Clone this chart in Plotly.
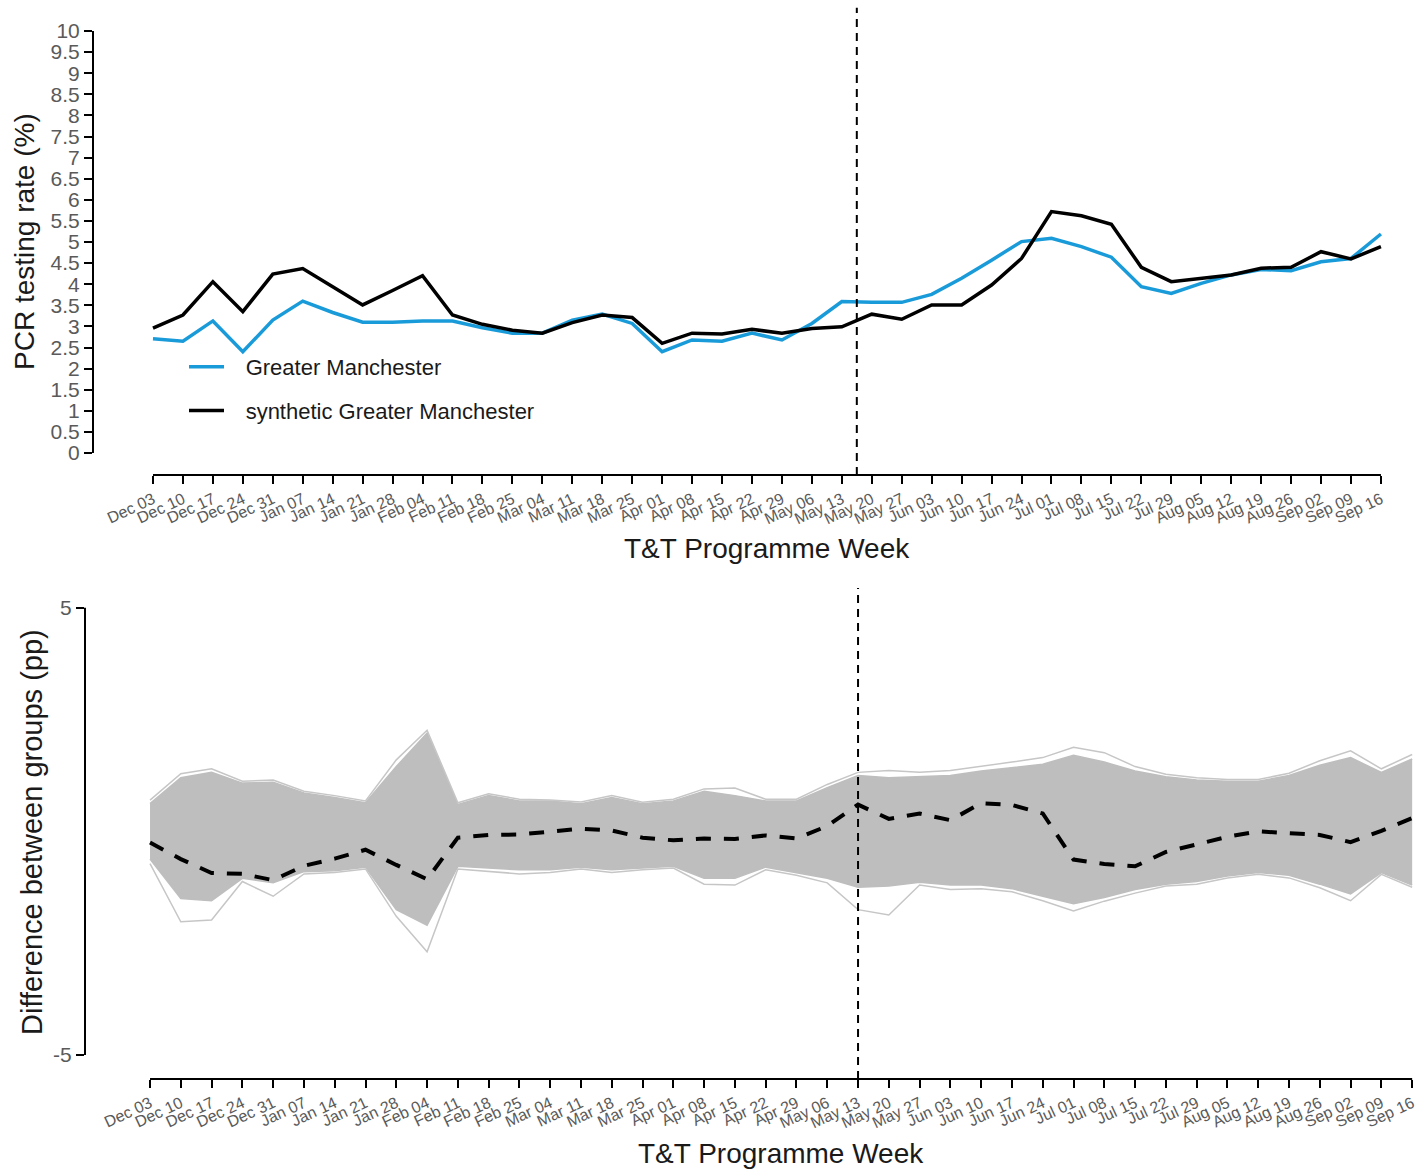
import plotly.graph_objects as go

# Programme weeks (Thursdays, Dec 2020 - Sep 2021)
weeks = [
    "Dec 03", "Dec 10", "Dec 17", "Dec 24", "Dec 31",
    "Jan 07", "Jan 14", "Jan 21", "Jan 28",
    "Feb 04", "Feb 11", "Feb 18", "Feb 25",
    "Mar 04", "Mar 11", "Mar 18", "Mar 25",
    "Apr 01", "Apr 08", "Apr 15", "Apr 22", "Apr 29",
    "May 06", "May 13", "May 20", "May 27",
    "Jun 03", "Jun 10", "Jun 17", "Jun 24",
    "Jul 01", "Jul 08", "Jul 15", "Jul 22", "Jul 29",
    "Aug 05", "Aug 12", "Aug 19", "Aug 26",
    "Sep 02", "Sep 09", "Sep 16",
]

# PCR testing rate (%)
greater_manchester = [
    2.71, 2.65, 3.13, 2.40, 3.15, 3.60, 3.33, 3.10, 3.10, 3.13,
    3.13, 2.97, 2.84, 2.84, 3.15, 3.29, 3.07, 2.40, 2.68, 2.65,
    2.84, 2.68, 3.07, 3.59, 3.57, 3.57, 3.76, 4.14, 4.57, 5.01,
    5.09, 4.89, 4.64, 3.94, 3.78, 4.02, 4.22, 4.35, 4.32, 4.53,
    4.61, 5.19,
]
synthetic_greater_manchester = [
    2.96, 3.27, 4.06, 3.35, 4.24, 4.37, 3.94, 3.51, 3.85, 4.20,
    3.27, 3.05, 2.91, 2.84, 3.09, 3.27, 3.21, 2.60, 2.84, 2.82,
    2.93, 2.84, 2.95, 2.99, 3.29, 3.17, 3.51, 3.51, 3.98, 4.61,
    5.72, 5.62, 5.42, 4.40, 4.06, 4.14, 4.22, 4.38, 4.40, 4.77,
    4.60, 4.89,
]

# Placebo gaps (pp): dense core of the placebo runs and their outermost runs
placebo_core_hi = [
    0.62, 1.20, 1.32, 1.08, 1.10, 0.86, 0.76, 0.64, 1.45, 2.20,
    0.60, 0.80, 0.68, 0.68, 0.62, 0.76, 0.62, 0.68, 0.90, 0.80,
    0.68, 0.68, 0.98, 1.25, 1.20, 1.22, 1.25, 1.35, 1.42, 1.50,
    1.70, 1.55, 1.35, 1.22, 1.15, 1.12, 1.12, 1.25, 1.48, 1.65,
    1.32, 1.62,
]
placebo_core_lo = [
    -0.62, -1.50, -1.55, -1.05, -1.15, -0.90, -0.88, -0.80, -1.75, -2.10,
    -0.78, -0.82, -0.86, -0.86, -0.80, -0.86, -0.82, -0.78, -1.05, -1.05,
    -0.80, -0.92, -1.05, -1.25, -1.22, -1.14, -1.20, -1.20, -1.28, -1.45,
    -1.62, -1.48, -1.30, -1.18, -1.12, -1.00, -0.92, -0.98, -1.18, -1.40,
    -0.92, -1.20,
]
placebo_outer_hi = [
    0.70, 1.29, 1.40, 1.12, 1.15, 0.90, 0.80, 0.68, 1.60, 2.26,
    0.64, 0.84, 0.72, 0.70, 0.66, 0.80, 0.65, 0.72, 0.95, 0.97,
    0.72, 0.72, 1.05, 1.32, 1.36, 1.32, 1.36, 1.45, 1.55, 1.65,
    1.88, 1.76, 1.45, 1.28, 1.20, 1.16, 1.16, 1.30, 1.58, 1.80,
    1.40, 1.72,
]
placebo_outer_lo = [
    -0.72, -2.02, -1.98, -1.12, -1.45, -0.95, -0.92, -0.84, -1.90, -2.69,
    -0.84, -0.90, -0.95, -0.92, -0.84, -0.92, -0.86, -0.82, -1.18, -1.20,
    -0.86, -0.98, -1.15, -1.75, -1.87, -1.20, -1.30, -1.28, -1.35, -1.55,
    -1.78, -1.56, -1.38, -1.22, -1.18, -1.04, -0.96, -1.04, -1.26, -1.55,
    -0.96, -1.25,
]

y_ticks_top = [i * 0.5 for i in range(21)]
y_ticks_bottom = [-5, 5]

x = list(range(len(weeks)))
gap = [round(a - b, 2) for a, b in zip(greater_manchester, synthetic_greater_manchester)]

W, H = 1423, 1170
FONT = "Liberation Sans, Arial, sans-serif"
BLUE = "#1a9bd9"
GREY = "#bebebe"
TICK_GREY = "#5a5a5a"
PAD = "\u00a0\u00a0\u2009"  # space between legend key and its label

fig = go.Figure()

# ---- top panel: observed vs synthetic ----
fig.add_trace(go.Scatter(
    x=x, y=greater_manchester, mode="lines", name=PAD + "Greater Manchester",
    line=dict(color=BLUE, width=3.5), legendgroup="a",
    xaxis="x", yaxis="y",
))
fig.add_trace(go.Scatter(
    x=x, y=synthetic_greater_manchester, mode="lines",
    name=PAD + "synthetic Greater Manchester",
    line=dict(color="black", width=3.5), legendgroup="b",
    xaxis="x", yaxis="y",
))

# ---- bottom panel: placebo gaps and treated gap ----
fig.add_trace(go.Scatter(
    x=x, y=placebo_core_lo, mode="lines", line=dict(color=GREY, width=1.5),
    showlegend=False, hoverinfo="skip", xaxis="x2", yaxis="y2",
))
fig.add_trace(go.Scatter(
    x=x, y=placebo_core_hi, mode="lines", line=dict(color=GREY, width=1.5),
    fill="tonexty", fillcolor=GREY,
    showlegend=False, hoverinfo="skip", xaxis="x2", yaxis="y2",
))
for edge in (placebo_outer_hi, placebo_outer_lo):
    fig.add_trace(go.Scatter(
        x=x, y=edge, mode="lines", line=dict(color="#c6c6c6", width=1.5),
        showlegend=False, hoverinfo="skip", xaxis="x2", yaxis="y2",
    ))
fig.add_trace(go.Scatter(
    x=x, y=gap, mode="lines",
    line=dict(color="black", width=4, dash="15px,13px"),
    showlegend=False, xaxis="x2", yaxis="y2",
))

# panel geometry in pixels
top_l, top_r, top_t, top_b = 93, 1395, 5, 475
bot_l, bot_r, bot_t, bot_b = 85, 1418, 585, 1079

tick_common = dict(
    ticks="outside", ticklen=8, tickwidth=2, tickcolor="black",
    showgrid=False, zeroline=False, showline=False,
)
xtick_font = dict(size=16, color=TICK_GREY, family=FONT)
ytick_font = dict(size=21, color=TICK_GREY, family=FONT)

fig.update_layout(
    width=W, height=H,
    margin=dict(l=0, r=0, t=0, b=0),
    paper_bgcolor="white", plot_bgcolor="white",
    font=dict(family=FONT, color="black"),
    xaxis=dict(
        domain=[top_l / W, top_r / W], anchor="y",
        range=[-2.003, 41.47],
        tickmode="array", tickvals=x, ticktext=weeks, tickangle=-25,
        tickfont=xtick_font, **tick_common,
    ),
    yaxis=dict(
        domain=[1 - top_b / H, 1 - top_t / H], anchor="x",
        range=[-0.521, 10.616],
        tickmode="array", tickvals=y_ticks_top,
        ticktext=[f"{v:g}" for v in y_ticks_top],
        tickfont=ytick_font, **tick_common,
    ),
    xaxis2=dict(
        domain=[bot_l / W, bot_r / W], anchor="y2",
        range=[-2.112, 41.19],
        tickmode="array", tickvals=x, ticktext=weeks, tickangle=-25,
        tickfont=xtick_font, **tick_common,
    ),
    yaxis2=dict(
        domain=[1 - bot_b / H, 1 - bot_t / H], anchor="x2",
        range=[-5.537, 5.51],
        tickmode="array", tickvals=y_ticks_bottom,
        ticktext=[str(v) for v in y_ticks_bottom],
        tickfont=ytick_font, **tick_common,
    ),
    legend=dict(
        x=184 / W, y=1 - 346 / H, xanchor="left", yanchor="top",
        font=dict(size=22, color="#1a1a1a", family=FONT),
        bgcolor="rgba(0,0,0,0)", traceorder="grouped", tracegroupgap=12,
        itemwidth=35,
    ),
    showlegend=True,
)

# axis lines spanning only the tick range
axis_line = dict(color="black", width=2)
fig.add_shape(type="line", xref="x domain", yref="y", x0=0, x1=0, y0=0, y1=10, line=axis_line)
fig.add_shape(type="line", xref="x", yref="y domain", x0=0, x1=len(weeks) - 1, y0=0, y1=0, line=axis_line)
fig.add_shape(type="line", xref="x2 domain", yref="y2", x0=0, x1=0, y0=-5, y1=5, line=axis_line)
fig.add_shape(type="line", xref="x2", yref="y2 domain", x0=0, x1=len(weeks) - 1, y0=0, y1=0, line=axis_line)

# programme start markers
fig.add_shape(type="line", xref="x", yref="y domain", x0=23.5, x1=23.5, y0=0, y1=0.994,
              line=dict(color="black", width=2, dash="8px,6px"))
fig.add_shape(type="line", xref="x2", yref="y2 domain", x0=23, x1=23, y0=0, y1=0.994,
              line=dict(color="black", width=2, dash="8px,6px"))

# axis titles
title_font = dict(family=FONT, size=28, color="#1a1a1a")
fig.add_annotation(text="PCR testing rate (%)", xref="paper", yref="paper",
                   x=25 / W, y=1 - 242 / H, textangle=-90, showarrow=False,
                   font=title_font, xanchor="center", yanchor="middle")
fig.add_annotation(text="T&T Programme Week", xref="paper", yref="paper",
                   x=767 / W, y=1 - 548 / H, showarrow=False,
                   font=title_font, xanchor="center", yanchor="middle")
fig.add_annotation(text="Difference between groups (pp)", xref="paper", yref="paper",
                   x=32 / W, y=1 - 832 / H, textangle=-90, showarrow=False,
                   font=dict(family=FONT, size=29, color="#1a1a1a"),
                   xanchor="center", yanchor="middle")
fig.add_annotation(text="T&T Programme Week", xref="paper", yref="paper",
                   x=781 / W, y=1 - 1153 / H, showarrow=False,
                   font=title_font, xanchor="center", yanchor="middle")

fig.write_html("out.html")
